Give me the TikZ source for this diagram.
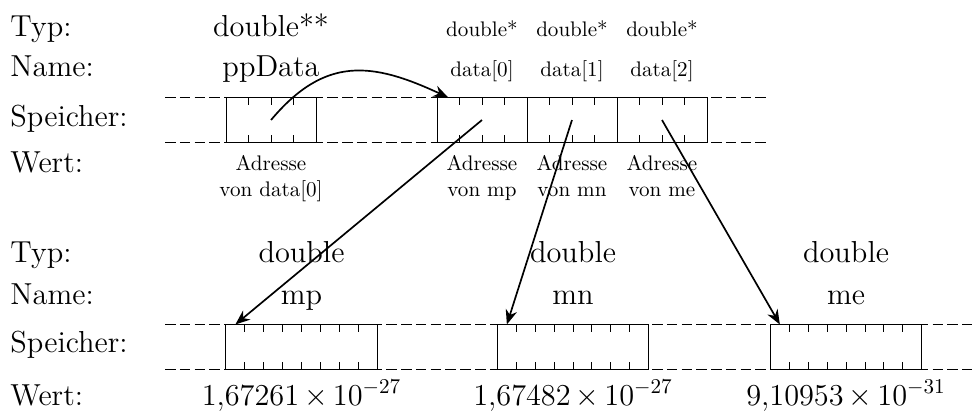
\documentclass[tikz,border=0pt]{standalone}
\usepackage{amsmath}
\usepackage{tikz}
\usetikzlibrary{positioning, arrows.meta}
\tikzstyle{row_label}=[anchor=base west, inner sep=0pt, font=\Large]
\tikzstyle{big_text}=[anchor=base, inner sep=0pt, font=\Large]
\tikzstyle{small_text}=[anchor=base, inner sep=0pt]
\tikzstyle{addr_text}=[anchor=north, inner sep=0pt, align=center]
\tikzstyle{ptr_cell}=[draw, minimum width=1.5cm, minimum height=0.75cm, inner sep=0pt, outer sep=0pt]
\tikzstyle{dbl_cell}=[draw, minimum width=2.52cm, minimum height=0.75cm, inner sep=0pt, outer sep=0pt]
\tikzstyle{mem_line}=[dash pattern=on 5pt off 2pt]
\tikzstyle{ptr_arrow}=[-{Stealth[length=7pt, width=5.5pt]}, thick]

\begin{document}
\begin{tikzpicture}
    \useasboundingbox (0,0) rectangle (16.233,-6.883);

    % upper part: the pointers
    \node[row_label] at (0.167, -0.6) (typ1) {Typ:};
    \node[row_label] at (0.167, -1.267) (name1) {Name:};
    \node[row_label] at (0.167, -2.1) (mem1) {Speicher:};
    \node[row_label] at (0.167, -2.883) (wert1) {Wert:};

    \draw[mem_line] (2.75, -1.625) -- (12.83, -1.625);
    \draw[mem_line] (2.75, -2.375) -- (12.83, -2.375);

    \node[ptr_cell] at (4.517, -2.0) (ppdata) {};
    \node[ptr_cell] at (8.033, -2.0) (data0) {};
    \node[ptr_cell] at (9.533, -2.0) (data1) {};
    \node[ptr_cell] at (11.033, -2.0) (data2) {};

    \foreach \cell in {ppdata, data0, data1, data2} {
        \foreach \i in {1,2,3} {
            \draw ([xshift=\i*0.375cm]\cell.north west) -- ++(0,-0.12);
            \draw ([xshift=\i*0.375cm]\cell.south west) -- ++(0,0.12);
        }
    }

    \node[big_text] at (4.517, -0.6) (t_pp) {double**};
    \node[big_text] at (4.517, -1.267) (n_pp) {ppData};
    \node[small_text] at (8.033, -0.6) (t_d0) {double*};
    \node[small_text] at (9.533, -0.6) (t_d1) {double*};
    \node[small_text] at (11.033, -0.6) (t_d2) {double*};
    \node[small_text] at (8.033, -1.267) (n_d0) {data[0]};
    \node[small_text] at (9.533, -1.267) (n_d1) {data[1]};
    \node[small_text] at (11.033, -1.267) (n_d2) {data[2]};

    \node[addr_text] at (4.517, -2.59) (w_pp) {Adresse\\von data[0]};
    \node[addr_text] at (8.033, -2.59) (w_d0) {Adresse\\von mp};
    \node[addr_text] at (9.533, -2.59) (w_d1) {Adresse\\von mn};
    \node[addr_text] at (11.033, -2.59) (w_d2) {Adresse\\von me};

    % lower part: the values
    \node[row_label] at (0.167, -4.383) (typ2) {Typ:};
    \node[row_label] at (0.167, -5.067) (name2) {Name:};
    \node[row_label] at (0.167, -5.883) (mem2) {Speicher:};
    \node[row_label] at (0.167, -6.75) (wert2) {Wert:};

    \draw[mem_line] (2.75, -5.408) -- (16.2, -5.408);
    \draw[mem_line] (2.75, -6.158) -- (16.2, -6.158);

    \node[dbl_cell] at (5.025, -5.783) (mp) {};
    \node[dbl_cell] at (9.55, -5.783) (mn) {};
    \node[dbl_cell] at (14.1, -5.783) (me) {};

    \foreach \cell in {mp, mn, me} {
        \foreach \i in {1,...,7} {
            \draw ([xshift=\i*0.315cm]\cell.north west) -- ++(0,-0.12);
            \draw ([xshift=\i*0.315cm]\cell.south west) -- ++(0,0.12);
        }
    }

    \node[big_text] at (5.025, -4.383) (t_mp) {double};
    \node[big_text] at (9.55, -4.383) (t_mn) {double};
    \node[big_text] at (14.1, -4.383) (t_me) {double};
    \node[big_text] at (5.025, -5.067) (n_mp) {mp};
    \node[big_text] at (9.55, -5.067) (n_mn) {mn};
    \node[big_text] at (14.1, -5.067) (n_me) {me};

    \node[big_text] at (5.025, -6.75) (w_mp) {$1{,}67261\,{\times}\,10^{-27}$};
    \node[big_text] at (9.55, -6.75) (w_mn) {$1{,}67482\,{\times}\,10^{-27}$};
    \node[big_text] at (14.1, -6.75) (w_me) {$9{,}10953\,{\times}\,10^{-31}$};

    \draw[ptr_arrow] (ppdata.center) to [out=50, in=155, looseness=1.2] ([xshift=0.1875cm]data0.north west);
    \draw[ptr_arrow] (data0.center) -- ([xshift=0.1575cm]mp.north west);
    \draw[ptr_arrow] (data1.center) -- ([xshift=0.1575cm]mn.north west);
    \draw[ptr_arrow] (data2.center) -- ([xshift=0.1575cm]me.north west);
\end{tikzpicture}
\end{document}
